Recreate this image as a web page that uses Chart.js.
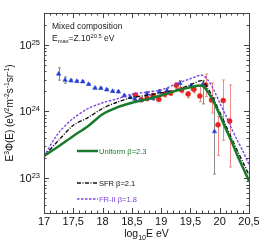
<!DOCTYPE html>
<html>
<head>
<meta charset="utf-8">
<script src="https://cdn.jsdelivr.net/npm/chart.js@4.4.0/dist/chart.umd.min.js"></script>
<style>
  html, body { margin: 0; padding: 0; background: #fff; }
  #wrap { position: relative; width: 266px; height: 245px; }
</style>
</head>
<body>
<div id="wrap"><canvas id="c"></canvas></div>
<script>
// ── Dados ──────────────────────────────────────────────────────────────
const modelE      = [17.0, 17.25, 17.5, 17.75, 18.0, 18.25, 18.5, 18.75, 19.0, 19.25, 19.5, 19.7, 19.8, 19.9, 20.0, 20.1, 20.2, 20.3, 20.4, 20.5];
const uniformFlux = [2.14e23, 3.0e23, 4.3e23, 6.0e23, 9.1e23, 1.15e24, 1.35e24, 1.52e24, 1.74e24, 2.04e24, 2.3e24, 2.43e24, 1.95e24, 1.38e24, 8.9e23, 5.6e23, 3.6e23, 2.2e23, 1.42e23, 9.1e22];
const sfrFlux     = [2.14e23, 3.7e23, 6.2e23, 8.1e23, 1.11e24, 1.38e24, 1.62e24, 1.74e24, 1.90e24, 2.1e24, 2.5e24, 2.9e24, 2.2e24, 1.52e24, 9.8e23, 6.3e23, 4.0e23, 2.6e23, 1.70e23, 1.12e23];
const fr2Flux     = [2.14e23, 4.8e23, 7.9e23, 1.10e24, 1.35e24, 1.55e24, 1.82e24, 1.95e24, 2.1e24, 2.57e24, 3.1e24, 3.5e24, 2.95e24, 2.1e24, 1.35e24, 8.9e23, 5.6e23, 3.7e23, 2.5e23, 1.6e23];

const blueE    = [17.25, 17.36, 17.46, 17.56, 17.66, 17.76, 17.87, 17.97, 18.07, 18.17, 18.27, 18.37, 18.47, 18.55, 18.66, 18.76, 18.86, 18.97, 19.10, 19.32, 19.51, 19.71, 19.91];
const blueFlux = [3.65e24, 2.96e24, 2.90e24, 2.84e24, 2.80e24, 2.56e24, 2.25e24, 2.23e24, 2.12e24, 2.01e24, 1.98e24, 1.73e24, 1.63e24, 1.54e24, 1.49e24, 1.85e24, 1.58e24, 1.98e24, 2.05e24, 2.65e24, 2.42e24, 2.54e24, 5.0e23];
const blueLo   = [2.95e24, 2.65e24, 2.8e24, 2.75e24, 2.72e24, 2.48e24, 2.18e24, 2.16e24, 2.05e24, 1.94e24, 1.91e24, 1.66e24, 1.56e24, 1.46e24, 1.40e24, 1.7e24, 1.48e24, 1.84e24, 1.9e24, 2.3e24, 2.1e24, 1.3e24, 1.15e23];
const blueHi   = [4.5e24, 3.3e24, 3.0e24, 2.93e24, 2.88e24, 2.64e24, 2.32e24, 2.30e24, 2.19e24, 2.08e24, 2.05e24, 1.80e24, 1.70e24, 1.62e24, 1.58e24, 2.0e24, 1.68e24, 2.12e24, 2.2e24, 2.9e24, 2.6e24, 2.9e24, 1.6e24];

const redE    = [18.56, 18.66, 18.76, 18.86, 18.96, 19.06, 19.16, 19.26, 19.35, 19.46, 19.56, 19.66, 19.76, 19.86, 19.97, 20.06, 20.17];
const redFlux = [1.77e24, 1.50e24, 1.56e24, 1.73e24, 1.52e24, 1.81e24, 1.90e24, 2.47e24, 2.10e24, 1.83e24, 2.15e24, 1.71e24, 2.49e24, 1.49e24, 6.3e23, 1.46e24, 7.2e23];
const redLo   = [1.68e24, 1.42e24, 1.48e24, 1.64e24, 1.43e24, 1.65e24, 1.75e24, 2.2e24, 1.9e24, 1.6e24, 1.9e24, 1.40e24, 1.67e24, 9.5e23, 2.2e23, 3.7e23, 1.47e23];
const redHi   = [1.86e24, 1.58e24, 1.64e24, 1.82e24, 1.61e24, 1.95e24, 2.05e24, 2.7e24, 2.3e24, 2.0e24, 2.4e24, 2.36e24, 3.65e24, 2.68e24, 8.4e23, 2.97e24, 2.5e24];

const xTicks  = [17, 17.5, 18, 18.5, 19, 19.5, 20, 20.5];
const yDecades = [23, 24, 25];
const legendLabels = ['Uniform β=2.3', 'SFR β=2.1', 'FR-II β=1.8'];

const GREEN = '#177a2c', BLACK = '#111111', PURPLE = '#7d44e6';
const BLUE = '#1f3fd8', RED = '#ea2418';
const FONT = "'Liberation Sans', Arial, sans-serif";

const pts = (xs, ys) => xs.map((x, i) => ({ x, y: ys[i] }));

// ── Texto com sub/sobrescrito ─────────────────────────────────────────
function drawRich(ctx, parts, x, y, size, align) {
  const widths = parts.map(p => {
    ctx.font = (p.s ? size * 0.68 : size) + 'px ' + FONT;
    return ctx.measureText(p.t).width;
  });
  const total = widths.reduce((a, b) => a + b, 0);
  let cx = align === 'center' ? x - total / 2 : align === 'right' ? x - total : x;
  ctx.textAlign = 'left';
  ctx.textBaseline = 'alphabetic';
  parts.forEach((p, i) => {
    ctx.font = (p.s ? size * 0.68 : size) + 'px ' + FONT;
    const dy = p.s === 'sup' ? -size * 0.38 : p.s === 'sub' ? size * 0.25 : 0;
    ctx.fillStyle = p.c || ctx.fillStyle;
    ctx.fillText(p.t, cx, y + dy);
    cx += widths[i];
  });
}

// ── Barras de erro ────────────────────────────────────────────────────
const errorBars = {
  id: 'errorBars',
  beforeDatasetsDraw(chart) {
    const { ctx, scales: { x, y } } = chart;
    const sets = [[blueE, blueLo, blueHi, '#8c8c8c'], [redE, redLo, redHi, '#f08a86']];
    ctx.save();
    ctx.lineWidth = 1;
    sets.forEach(([es, lo, hi, col]) => {
      ctx.strokeStyle = col;
      es.forEach((e, i) => {
        const px = Math.round(x.getPixelForValue(e)) + 0.5;
        const y1 = y.getPixelForValue(lo[i]), y2 = y.getPixelForValue(hi[i]);
        ctx.beginPath();
        ctx.moveTo(px, y1); ctx.lineTo(px, y2);
        ctx.moveTo(px - 1.5, y1); ctx.lineTo(px + 1.5, y1);
        ctx.moveTo(px - 1.5, y2); ctx.lineTo(px + 1.5, y2);
        ctx.stroke();
      });
    });
    ctx.restore();
  }
};

// ── Moldura, ticks internos, textos ───────────────────────────────────
const frame = {
  id: 'frame',
  afterDraw(chart) {
    const { ctx, chartArea: ca, scales: { x, y } } = chart;
    ctx.save();
    ctx.strokeStyle = '#444';
    ctx.lineWidth = 1;
    ctx.strokeRect(Math.round(ca.left) + 0.5, Math.round(ca.top) + 0.5,
                   Math.round(ca.right - ca.left), Math.round(ca.bottom - ca.top));

    ctx.beginPath();
    // ticks x: maiores a cada 0,5 e menores a cada 0,1
    for (let k = 0; k <= 35; k++) {
      const v = 17 + k * 0.1;
      const px = Math.round(x.getPixelForValue(v)) + 0.5;
      const len = k % 5 === 0 ? 5 : 2.5;
      ctx.moveTo(px, ca.bottom); ctx.lineTo(px, ca.bottom - len);
      ctx.moveTo(px, ca.top); ctx.lineTo(px, ca.top + len);
    }
    // ticks y logarítmicos
    for (let d = 22; d <= 25; d++) {
      for (let m = 1; m <= 9; m++) {
        const v = m * Math.pow(10, d);
        if (v < y.min || v > y.max) continue;
        const py = Math.round(y.getPixelForValue(v)) + 0.5;
        const len = m === 1 ? 5 : 2.5;
        ctx.moveTo(ca.left, py); ctx.lineTo(ca.left + len, py);
        ctx.moveTo(ca.right, py); ctx.lineTo(ca.right - len, py);
      }
    }
    ctx.stroke();

    // rótulos do eixo y: 10^n
    ctx.fillStyle = '#111';
    yDecades.forEach(d => {
      const py = y.getPixelForValue(Math.pow(10, d));
      drawRich(ctx, [{ t: '10' }, { t: String(d), s: 'sup' }], ca.left - 4, py + 4, 11, 'right');
    });

    // títulos dos eixos
    ctx.fillStyle = '#111';
    drawRich(ctx, [{ t: 'log' }, { t: '10', s: 'sub' }, { t: 'E eV' }], (ca.left + ca.right) / 2, 237, 10.5, 'center');
    ctx.save();
    ctx.translate(13, (ca.top + ca.bottom) / 2);
    ctx.rotate(-Math.PI / 2);
    drawRich(ctx, [{ t: 'E' }, { t: '3', s: 'sup' }, { t: 'Φ(E) (eV' }, { t: '2', s: 'sup' }, { t: 'm' },
                   { t: '-2', s: 'sup' }, { t: 's' }, { t: '-1', s: 'sup' }, { t: 'sr' }, { t: '-1', s: 'sup' }, { t: ')' }],
             0, 0, 10, 'center');
    ctx.restore();

    // anotação
    ctx.fillStyle = '#222';
    drawRich(ctx, [{ t: 'Mixed composition' }], 52, 29, 8.5, 'left');
    drawRich(ctx, [{ t: 'E' }, { t: 'max', s: 'sub' }, { t: '=Z.10' }, { t: '20.5', s: 'sup' }, { t: ' eV' }], 52, 41, 8.5, 'left');

    // legenda
    const leg = [[151, GREEN, [], 2.5], [183, BLACK, [4, 1.5, 1, 1.5], 1.3], [199, PURPLE, [2.5, 1.5], 1.3]];
    leg.forEach(([ly, col, dash, w], i) => {
      ctx.beginPath();
      ctx.strokeStyle = col; ctx.lineWidth = w; ctx.setLineDash(dash);
      ctx.moveTo(77, ly); ctx.lineTo(98, ly); ctx.stroke();
      ctx.setLineDash([]);
      ctx.fillStyle = col;
      drawRich(ctx, [{ t: legendLabels[i] }], 99, ly + 2.5, 7.5, 'left');
    });
    ctx.restore();
  }
};

new Chart(document.getElementById('c'), {
  type: 'line',
  data: {
    datasets: [
      { data: pts(modelE, uniformFlux), borderColor: GREEN, borderWidth: 2.5, pointRadius: 0, tension: 0.3, order: 0 },
      { data: pts(modelE, sfrFlux), borderColor: BLACK, borderWidth: 1.4, borderDash: [4, 1.5, 1, 1.5], pointRadius: 0, tension: 0.3, order: 0 },
      { data: pts(modelE, fr2Flux), borderColor: PURPLE, borderWidth: 1.4, borderDash: [2.5, 1.5], pointRadius: 0, tension: 0.3, order: 0 },
      { data: pts(blueE, blueFlux), showLine: false, pointStyle: 'triangle', pointRadius: 2.6, backgroundColor: BLUE, borderColor: BLUE, borderWidth: 0.5, order: 1 },
      { data: pts(redE, redFlux), showLine: false, pointStyle: 'circle', pointRadius: 2.5, backgroundColor: RED, borderColor: RED, borderWidth: 0.5, order: 1 }
    ]
  },
  options: {
    responsive: true,
    maintainAspectRatio: false,
    devicePixelRatio: 1,
    animation: false,
    layout: { padding: { left: 0, right: 17, top: 13, bottom: 0 } },
    plugins: { legend: { display: false }, tooltip: { enabled: false } },
    scales: {
      x: {
        type: 'linear', min: 17, max: 20.5,
        grid: { display: false, drawTicks: false },
        border: { display: false },
        afterBuildTicks: s => { s.ticks = xTicks.map(v => ({ value: v })); },
        afterFit: s => { s.height = 32; },
        ticks: {
          autoSkip: false, maxRotation: 0, padding: 2, color: '#111',
          font: { size: 11, family: FONT },
          callback: v => String(v).replace('.', ',')
        }
      },
      y: {
        type: 'logarithmic', min: 3e22, max: 3e25,
        grid: { display: false, drawTicks: false },
        border: { display: false },
        ticks: { display: false },
        afterFit: s => { s.width = 44; }
      }
    }
  },
  plugins: [errorBars, frame]
});
</script>
</body>
</html>
